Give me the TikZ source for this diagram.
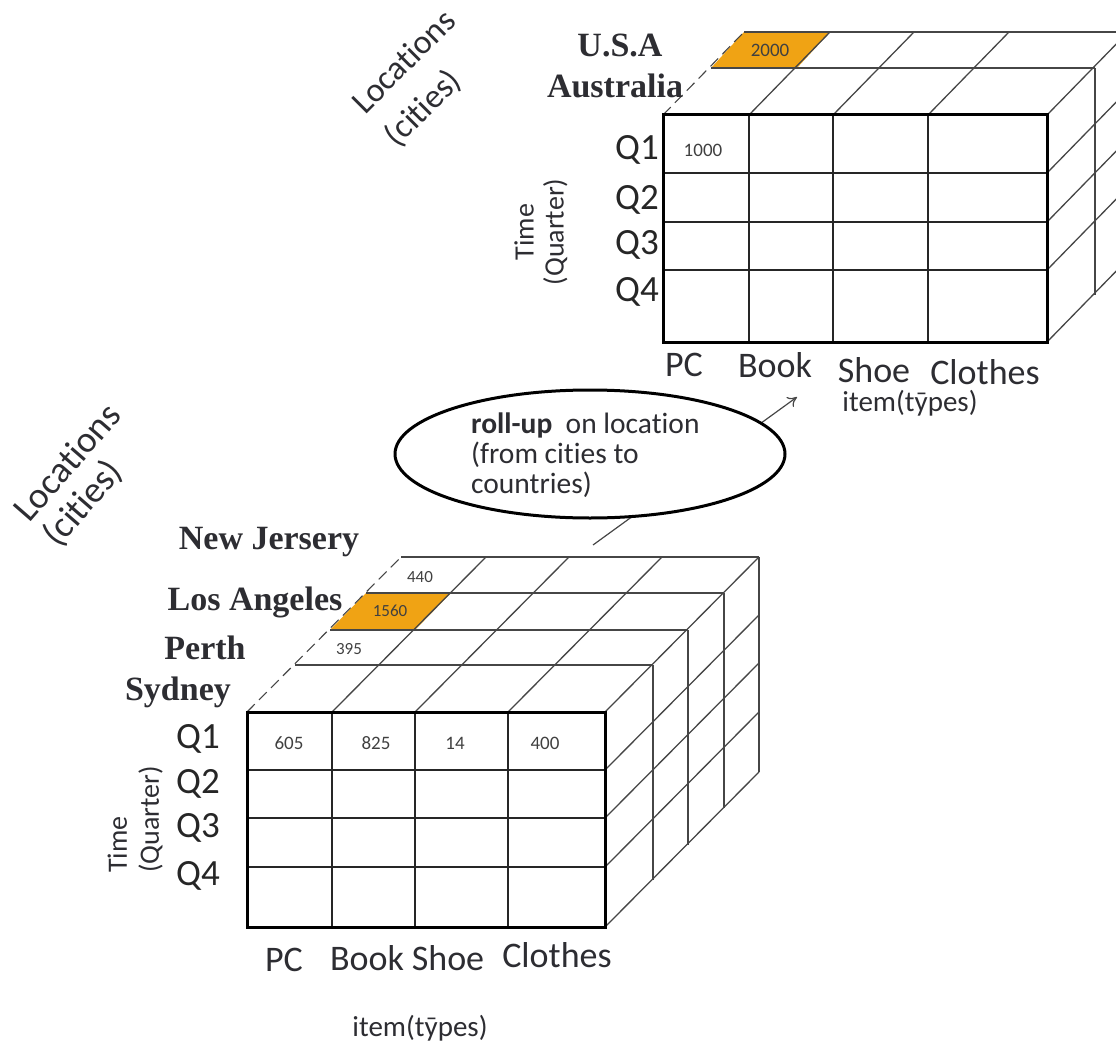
\documentclass[tikz,border=0pt]{standalone}
\usepackage{fontspec}
\setmainfont{Liberation Serif}
\newfontfamily\labelfont[Ligatures=CommonOff]{Carlito}
\usetikzlibrary{shapes.geometric,arrows.meta}
\definecolor{cellorange}{RGB}{240,163,20}
\definecolor{gridgray}{RGB}{70,70,70}
\definecolor{inkgray}{RGB}{45,45,50}

\begin{document}
\begin{tikzpicture}[x=1pt,y=-1pt,
  every node/.style={inner sep=1pt},
  gridline/.style={draw=gridgray, line width=1.3pt},
  frontgrid/.style={draw=black!85, line width=1.6pt},
  frontframe/.style={draw=black, line width=3pt},
  edgedash/.style={draw=gridgray, line width=1.1pt, dash pattern=on 11pt off 6pt},
  city/.style={font=\fontsize{34}{36}\selectfont\bfseries, text=inkgray},
  axislabel/.style={font=\labelfont\fontsize{36}{38}\selectfont, text=inkgray},
  qlabel/.style={font=\labelfont\fontsize{37}{39}\selectfont, text=black!85, anchor=east},
  dimlabel/.style={font=\labelfont\fontsize{29}{31}\selectfont, text=inkgray},
  sidelabel/.style={font=\labelfont\fontsize{28}{30}\selectfont, text=inkgray, rotate=90},
  loclabel/.style={text=inkgray, align=left},
  value/.style={font=\labelfont\fontsize{19}{21}\selectfont, text=black!75},
  smallvalue/.style={font=\labelfont\fontsize{17}{19}\selectfont, text=black!75},
  bubble/.style={ellipse, draw=black, line width=3pt, fill=white,
                 minimum width=390pt, minimum height=128pt},
  rollarrow/.style={draw=gridgray, line width=1.2pt, -{To[length=9pt,width=12pt]}}
]
\useasboundingbox (0,0) rectangle (1116,1046);
\clip (0,0) rectangle (1116,1046);

% ---------------- upper cube: countries ----------------
% highlighted U.S.A / PC cell on the top face
\fill[cellorange] (663+48,115-47) -- (663+81,115-83) -- (749+81,115-83) -- (749+48,115-47) -- cycle;
% top face: back edges of each layer
\foreach \dx/\dy in {48/47, 81/83}
  \draw[gridline] (663+\dx,115-\dy) -- (1047+\dx,115-\dy);
% top face: receding column lines
\foreach \c in {749,833,928,1047}
  \draw[gridline] (\c,115) -- (\c+81,115-83);
\draw[edgedash] (663,115) -- (663+81,115-83);
% right face
\foreach \dx/\dy in {48/47, 81/83}
  \draw[gridline] (1047+\dx,115-\dy) -- (1047+\dx,342-\dy);
\foreach \r in {173,222,270,342}
  \draw[gridline] (1047,\r) -- (1047+81,\r-83);
% front face
\foreach \c in {749,833,928}
  \draw[frontgrid] (\c,115) -- (\c,342);
\foreach \r in {173,222,270}
  \draw[frontgrid] (663,\r) -- (1047,\r);
\draw[frontframe] (663,115) rectangle (1047,342);

\node[value] (v2000) at (770,50) {2000};
\node[value] (v1000) at (703,150) {1000};

\node[city] (usa) at (620,45) {U.S.A};
\node[city] (aus) at (615,86) {Australia};

\node[qlabel] (tq1) at (660,150) {Q1};
\node[qlabel] (tq2) at (660,200) {Q2};
\node[qlabel] (tq3) at (660,245) {Q3};
\node[qlabel] (tq4) at (660,292) {Q4};

\node[sidelabel, align=center] (tside) at (541,232) {Time\\(Quarter)};

\node[axislabel] (tpc) at (684,365) {PC};
\node[axislabel] (tbook) at (775,365) {Book};
\node[axislabel] (tshoe) at (874,370) {Shoe};
\node[axislabel] (tclothes) at (985,372) {Clothes};
\node[dimlabel] (titem) at (910,403) {item(t\={y}pes)};

\node[loclabel, rotate=45, font=\labelfont\fontsize{34}{46}\selectfont]
  (tloc) at (421,79) {Locations\\(cities)};

% ---------------- lower cube: cities ----------------
% highlighted Los Angeles / PC cell on the top face
\fill[cellorange] (247+83,712-82) -- (247+119,712-119) -- (332+119,712-119) -- (332+83,712-82) -- cycle;
% top face: back edges of each layer
\foreach \dx/\dy in {48/47, 83/82, 119/119, 154/155}
  \draw[gridline] (247+\dx,712-\dy) -- (605+\dx,712-\dy);
% top face: receding column lines
\foreach \c in {332,415,508,605}
  \draw[gridline] (\c,712) -- (\c+154,712-155);
\draw[edgedash] (247,712) -- (247+154,712-155);
% right face
\foreach \dx/\dy in {48/47, 83/82, 119/119, 154/155}
  \draw[gridline] (605+\dx,712-\dy) -- (605+\dx,927-\dy);
\foreach \r in {770,818,867,927}
  \draw[gridline] (605,\r) -- (605+154,\r-155);
% front face
\foreach \c in {332,415,508}
  \draw[frontgrid] (\c,712) -- (\c,927);
\foreach \r in {770,818,867}
  \draw[frontgrid] (247,\r) -- (605,\r);
\draw[frontframe] (247,712) rectangle (605,927);

\node[smallvalue] (v440) at (420,577) {440};
\node[smallvalue] (v1560) at (390,611) {1560};
\node[smallvalue] (v395) at (349,649) {395};
\node[value] (v605) at (289,743) {605};
\node[value] (v825) at (376,743) {825};
\node[value] (v14) at (455,743) {14};
\node[value] (v400) at (545,743) {400};

\node[city] (nj) at (269,542) {New Jersery};
\node[city] (la) at (255,602) {Los Angeles};
\node[city] (perth) at (205,648) {Perth};
\node[city] (sydney) at (178,692) {Sydney};

\node[qlabel] (bq1) at (221,739) {Q1};
\node[qlabel] (bq2) at (221,784) {Q2};
\node[qlabel] (bq3) at (221,828) {Q3};
\node[qlabel] (bq4) at (221,876) {Q4};

\node[sidelabel, align=left, anchor=south west,
      font=\labelfont\fontsize{28}{32}\selectfont] (bside) at (164,874) {Time\\(Quarter)};

\node[axislabel] (bpc) at (284,960) {PC};
\node[axislabel] (bbook) at (367,958) {Book};
\node[axislabel] (bshoe) at (448,958) {Shoe};
\node[axislabel] (bclothes) at (557,955) {Clothes};
\node[dimlabel] (bitem) at (420,1028) {item(t\={y}pes)};

\node[loclabel, rotate=49, font=\labelfont\fontsize{37}{38}\selectfont]
  (bloc) at (83,476) {Locations\\(cities)};

% ---------------- roll-up operation ----------------
\coordinate (rollfrom) at (593,545);
\coordinate (rollto) at (797,397);
\draw[rollarrow] (rollfrom) -- (rollto);
\node[bubble] (roll) at (590,454) {};
\node[font=\labelfont\fontsize{29.5}{30}\selectfont, text=inkgray, align=left, anchor=west]
  (rolltext) at (470,455) {\textbf{roll-up}\ \ on location\\(from cities to\\countries)};
\end{tikzpicture}
\end{document}
